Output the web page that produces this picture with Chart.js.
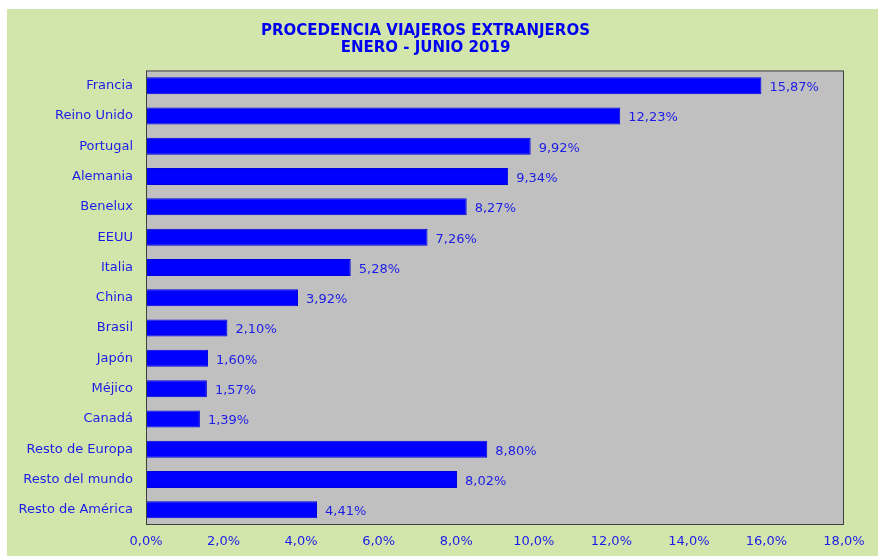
<!DOCTYPE html>
<html>
<head>
<meta charset="utf-8">
<script src="https://cdn.jsdelivr.net/npm/chart.js@4"></script>
<style>
    body { margin: 0; background: #ffffff; }
    #box {
        position: absolute;
        left: 7px;
        top: 9px;
        width: 871px;
        height: 547px;
        background: #d2e6ac;
    }
</style>
</head>
<body>
<div id="box"><canvas id="chart" width="871" height="547"></canvas></div>
<script>
const countries = ['Francia', 'Reino Unido', 'Portugal', 'Alemania', 'Benelux', 'EEUU', 'Italia', 'China',
    'Brasil', 'Japón', 'Méjico', 'Canadá', 'Resto de Europa', 'Resto del mundo', 'Resto de América'];
const shares = [15.87, 12.23, 9.92, 9.34, 8.27, 7.26, 5.28, 3.92, 2.10, 1.60, 1.57, 1.39, 8.80, 8.02, 4.41];
const titleLines = ['PROCEDENCIA VIAJEROS EXTRANJEROS', 'ENERO - JUNIO 2019'];
const axisMax = 18;
const axisStep = 2;

const textColor = '#1c1ce6';
const fontFamily = '"DejaVu Sans", Verdana, sans-serif';
const fmt = (v, d) => v.toFixed(d).replace('.', ',') + '%';

// gray plot area + dark border
const plotArea = {
    id: 'plotArea',
    beforeDatasetsDraw(chart) {
        const a = chart.chartArea;
        const ctx = chart.ctx;
        ctx.save();
        ctx.fillStyle = '#c0c0c0';
        ctx.fillRect(a.left, a.top, a.right - a.left, a.bottom - a.top);
        ctx.restore();
    },
    afterDatasetsDraw(chart) {
        const a = chart.chartArea;
        const ctx = chart.ctx;
        ctx.save();
        ctx.strokeStyle = '#404040';
        ctx.lineWidth = 1;
        ctx.strokeRect(a.left + 0.5, a.top + 0.5, a.right - a.left - 1, a.bottom - a.top - 1);

        // value labels
        ctx.fillStyle = textColor;
        ctx.font = '13px ' + fontFamily;
        ctx.textBaseline = 'middle';
        ctx.textAlign = 'left';
        chart.getDatasetMeta(0).data.forEach((bar, i) => {
            ctx.fillText(fmt(shares[i], 2), bar.x + 8, bar.y + 2);
        });
        ctx.restore();
    }
};

new Chart(document.getElementById('chart'), {
    type: 'bar',
    data: {
        labels: countries,
        datasets: [{
            data: shares,
            backgroundColor: '#0000ff',
            borderColor: '#0000dd',
            borderWidth: 1,
            categoryPercentage: 1,
            barPercentage: 0.56
        }]
    },
    options: {
        indexAxis: 'y',
        responsive: false,
        animation: false,
        layout: { padding: { left: 0, right: 34, top: 0, bottom: 0 } },
        plugins: {
            legend: { display: false },
            tooltip: { enabled: false },
            title: {
                display: true,
                text: titleLines,
                color: '#0000f0',
                font: { family: fontFamily, size: 15, weight: 'bold', lineHeight: 1.15 },
                padding: { top: 13, bottom: 14 }
            }
        },
        scales: {
            x: {
                min: 0,
                max: axisMax,
                grid: { display: false, drawTicks: false },
                border: { display: false },
                afterFit(axis) { axis.height = 31; },
                ticks: {
                    stepSize: axisStep,
                    padding: 9,
                    color: textColor,
                    font: { family: fontFamily, size: 13 },
                    callback: v => fmt(v, 1)
                }
            },
            y: {
                grid: { display: false, drawTicks: false },
                border: { display: false },
                afterFit(axis) { axis.width = 139; },
                ticks: {
                    padding: 13,
                    color: textColor,
                    font: { family: fontFamily, size: 13 }
                }
            }
        }
    },
    plugins: [plotArea]
});
</script>
</body>
</html>
